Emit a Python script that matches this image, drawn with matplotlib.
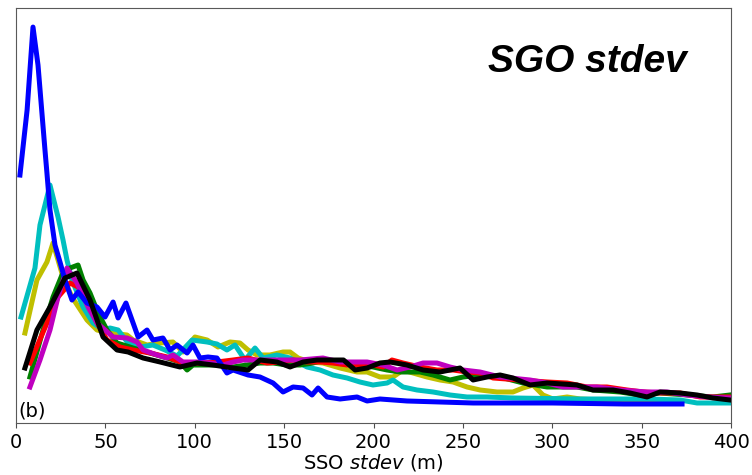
import numpy as np
import matplotlib
matplotlib.use('Agg')
import matplotlib.pyplot as plt

# values (arbitrary frequency units)
blue_x = [2.2, 6.2, 9.5, 12.3, 16.2, 17.3, 19.0, 21.8, 24.6, 27.4, 31.3, 34.7, 39.7, 45.3, 49.8,
          54.3, 57.1, 61.5, 68.3, 73.3, 76.6, 82.2, 86.2, 90.1, 95.7, 99.0, 102.9, 107.4, 112.4,
          118.0, 121.4, 129.8, 136.5, 143.8, 149.4, 155.0, 160.6, 165.6, 169.0, 174.0, 181.3,
          190.8, 196.4, 203.6, 218.7, 237.2, 255.7, 266.9, 300.0, 340.0, 372.6]
blue_y = [2.48, 3.13, 3.96, 3.58, 2.73, 2.50, 2.13, 1.78, 1.61, 1.43, 1.23, 1.31, 1.20, 1.16, 1.06,
          1.21, 1.05, 1.20, 0.86, 0.93, 0.83, 0.85, 0.73, 0.78, 0.70, 0.78, 0.65, 0.66, 0.65,
          0.50, 0.53, 0.48, 0.46, 0.40, 0.31, 0.36, 0.35, 0.28, 0.35, 0.26, 0.24,
          0.26, 0.22, 0.24, 0.22, 0.21, 0.20, 0.20, 0.20, 0.19, 0.19]

cyan_x = [2.8, 10.6, 13.4, 19.0, 23.5, 26.3, 28.5, 31.3, 37.5, 43.1, 48.7, 52.6, 57.1, 62.7, 69.4,
          76.6, 83.4, 90.1, 98.5, 106.9, 112.4, 118.0, 122.5, 128.1, 133.7, 138.2, 146.0, 153.3,
          162.8, 170.1, 177.3, 185.2, 192.4, 199.7, 207.6, 210.9, 216.5, 224.3, 233.3, 242.8,
          252.3, 263.5, 278.0, 315.5, 353.0, 371.5, 381.0, 399.4]
cyan_y = [1.06, 1.55, 1.98, 2.38, 2.06, 1.83, 1.63, 1.43, 1.16, 1.00, 0.93, 0.95, 0.93, 0.80, 0.76,
          0.78, 0.73, 0.67, 0.83, 0.81, 0.79, 0.73, 0.78, 0.63, 0.75, 0.65, 0.68, 0.65,
          0.56, 0.53, 0.48, 0.45, 0.41, 0.38, 0.40, 0.43, 0.36, 0.33, 0.31, 0.28,
          0.26, 0.26, 0.25, 0.24, 0.24, 0.23, 0.20, 0.20]

yellow_x = [5.0, 11.7, 17.3, 20.7, 26.3, 31.3, 39.7, 45.3, 52.6, 62.1, 65.5, 73.3, 80.6, 87.8,
            93.4, 100.1, 106.9, 113.0, 119.7, 125.3, 129.8, 134.8, 142.1, 149.4, 153.3, 157.8,
            164.5, 171.7, 181.3, 190.8, 196.4, 203.6, 210.9, 216.5, 222.1, 229.9, 237.2, 244.5,
            252.3, 259.6, 269.1, 278.0, 283.6, 289.2, 294.8, 300.4, 308.3, 315.5, 326.7, 337.9,
            349.1, 360.3]
yellow_y = [0.90, 1.43, 1.61, 1.80, 1.46, 1.26, 1.03, 0.93, 0.90, 0.88, 0.83, 0.78, 0.80, 0.81,
            0.71, 0.86, 0.83, 0.76, 0.81, 0.80, 0.73, 0.68, 0.68, 0.71, 0.71, 0.65,
            0.61, 0.60, 0.55, 0.51, 0.51, 0.46, 0.46, 0.53, 0.50, 0.46, 0.43, 0.41,
            0.36, 0.33, 0.31, 0.31, 0.35, 0.38, 0.28, 0.24, 0.26, 0.24, 0.23, 0.23,
            0.23, 0.22]

green_x = [7.8, 15.1, 20.7, 25.7, 30.2, 34.7, 37.5, 41.4, 45.9, 50.9, 56.5, 65.5, 75.0, 84.5,
           91.7, 95.7, 99.0, 106.9, 114.1, 121.4, 129.2, 136.5, 143.8, 151.6, 158.9, 166.2,
           171.7, 181.3, 190.8, 199.7, 207.6, 214.8, 226.0, 233.3, 242.8, 250.1, 259.6, 270.8,
           283.6, 297.1, 313.8, 322.8, 337.9, 349.1, 360.3, 375.4, 389.9, 399.4]
green_y = [0.46, 0.93, 1.26, 1.48, 1.55, 1.58, 1.43, 1.30, 1.10, 0.93, 0.80, 0.75, 0.70, 0.65,
           0.61, 0.53, 0.58, 0.58, 0.58, 0.56, 0.58, 0.60, 0.60, 0.58, 0.58, 0.60,
           0.63, 0.60, 0.58, 0.56, 0.53, 0.51, 0.51, 0.48, 0.43, 0.46, 0.48, 0.46,
           0.40, 0.36, 0.36, 0.33, 0.31, 0.28, 0.30, 0.28, 0.26, 0.28]

red_x = [7.8, 17.3, 23.5, 30.2, 34.7, 39.7, 45.3, 50.9, 58.2, 65.5, 75.0, 84.5, 93.4, 102.9,
         112.4, 121.4, 129.8, 140.4, 147.7, 155.0, 162.8, 170.1, 177.3, 185.2, 192.4, 199.7,
         205.3, 210.3, 216.5, 226.0, 235.5, 244.5, 252.3, 259.6, 266.9, 281.9, 297.1, 308.3,
         319.4, 330.6, 341.8, 350.8, 360.3, 371.5, 382.7, 399.4]
red_y = [0.60, 1.00, 1.26, 1.40, 1.36, 1.23, 1.00, 0.83, 0.76, 0.73, 0.70, 0.66, 0.60, 0.60,
         0.61, 0.63, 0.65, 0.60, 0.61, 0.63, 0.61, 0.61, 0.60, 0.58, 0.58, 0.58,
         0.56, 0.63, 0.60, 0.56, 0.53, 0.53, 0.51, 0.50, 0.45, 0.43, 0.41, 0.40,
         0.36, 0.36, 0.33, 0.31, 0.30, 0.30, 0.26, 0.26]

magenta_x = [7.8, 13.4, 19.0, 23.5, 28.5, 34.1, 40.3, 45.3, 49.8, 54.3, 62.1, 67.7, 71.1, 78.9,
             84.5, 87.8, 93.4, 101.3, 108.5, 115.8, 121.4, 127.0, 136.5, 147.7, 158.9, 171.7,
             181.3, 190.8, 196.4, 205.3, 213.2, 220.4, 227.7, 235.5, 242.8, 250.1, 259.6, 270.8,
             287.6, 297.1, 306.0, 315.5, 325.0, 337.9, 353.0, 364.2, 375.4, 386.6, 399.4]
magenta_y = [0.36, 0.63, 0.93, 1.26, 1.55, 1.40, 1.16, 1.00, 0.93, 0.86, 0.85, 0.81, 0.73, 0.68,
             0.65, 0.68, 0.61, 0.61, 0.60, 0.58, 0.61, 0.63, 0.63, 0.63, 0.63, 0.65,
             0.61, 0.61, 0.61, 0.58, 0.53, 0.56, 0.60, 0.60, 0.56, 0.53, 0.51, 0.46,
             0.43, 0.40, 0.36, 0.36, 0.36, 0.33, 0.31, 0.31, 0.28, 0.26, 0.25]

black_x = [5.0, 11.7, 19.0, 27.4, 34.1, 41.4, 48.7, 56.5, 62.7, 71.1, 80.6, 91.7, 101.3, 110.2,
           121.4, 129.8, 136.5, 146.0, 153.3, 160.6, 168.4, 183.2, 189.7, 196.4, 203.6, 209.2,
           218.7, 227.7, 237.2, 248.4, 255.7, 263.5, 270.8, 278.0, 287.6, 297.1, 313.8, 322.8,
           334.0, 343.5, 353.0, 360.3, 371.5, 381.0, 389.9, 399.4]
black_y = [0.55, 0.93, 1.16, 1.45, 1.50, 1.23, 0.86, 0.73, 0.71, 0.65, 0.61, 0.56, 0.60, 0.58,
           0.55, 0.53, 0.63, 0.61, 0.56, 0.61, 0.63, 0.63, 0.53, 0.55, 0.60, 0.61,
           0.58, 0.53, 0.51, 0.55, 0.43, 0.46, 0.48, 0.45, 0.38, 0.40, 0.38, 0.33,
           0.33, 0.30, 0.26, 0.31, 0.30, 0.28, 0.25, 0.23]

fig = plt.figure(figsize=(7.52, 4.75), dpi=100)
ax = fig.add_axes([0.0213, 0.1095, 0.9508, 0.8735])

lw = 3.6
ax.plot(yellow_x, yellow_y, color='y', lw=lw)
ax.plot(cyan_x, cyan_y, color='c', lw=lw)
ax.plot(green_x, green_y, color='g', lw=lw)
ax.plot(red_x, red_y, color='r', lw=lw)
ax.plot(magenta_x, magenta_y, color='m', lw=lw)
ax.plot(blue_x, blue_y, color='b', lw=lw)
ax.plot(black_x, black_y, color='k', lw=lw)

ax.set_xlim(0, 400)
ax.set_ylim(0, 4.15)
ax.set_yticks([])
ax.set_xticks(np.arange(0, 401, 50))
ax.tick_params(axis='x', labelsize=14, colors='0.3', labelcolor='black')
for s in ax.spines.values():
    s.set_color('0.35')

ax.set_xlabel('SSO $\\it{stdev}$ (m)', fontsize=14, labelpad=0)
ax.text(0.003, 0.005, '(b)', transform=ax.transAxes, fontsize=14, ha='left', va='bottom')
ax.text(0.799, 0.846, 'SGO stdev', transform=ax.transAxes, fontsize=28,
        fontweight='bold', fontstyle='italic', family='Liberation Sans',
        ha='center', va='baseline')

fig.savefig('out.png', dpi=100)
